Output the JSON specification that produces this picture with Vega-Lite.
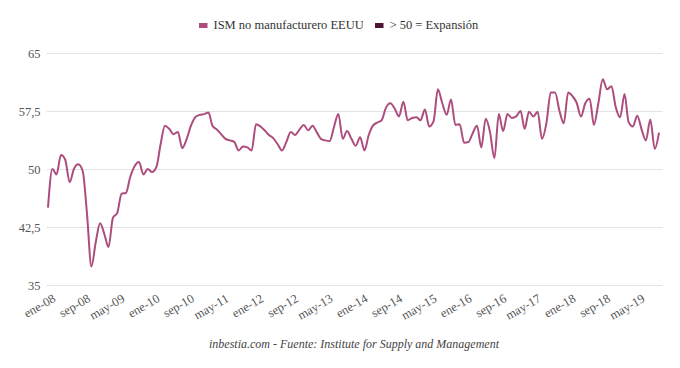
{
  "$schema": "https://vega.github.io/schema/vega-lite/v6.json",
  "width": 616,
  "height": 232,
  "autosize": {"type": "none"},
  "padding": {"left": 46, "top": 53, "right": 18, "bottom": 83},
  "background": "white",
  "title": {
    "text": "inbestia.com - Fuente: Institute for Supply and Management",
    "orient": "bottom",
    "anchor": "middle",
    "font": "'Liberation Serif', 'DejaVu Serif', serif",
    "fontSize": 12,
    "fontStyle": "italic",
    "fontWeight": "normal",
    "color": "#444444",
    "offset": 17
  },
  "config": {
    "view": {"stroke": null},
    "font": "'Liberation Serif', 'DejaVu Serif', serif",
    "axis": {"labelFont": "'Liberation Serif', 'DejaVu Serif', serif", "labelFontSize": 12.5, "labelColor": "#555555"},
    "legend": {"labelFont": "'Liberation Serif', 'DejaVu Serif', serif"}
  },
  "datasets": {
    "ism": [
      {"d": "2008-01-01", "v": 45.0}, {"d": "2008-02-01", "v": 50.0}, {"d": "2008-03-01", "v": 49.3}, {"d": "2008-04-01", "v": 51.8},
      {"d": "2008-05-01", "v": 51.2}, {"d": "2008-06-01", "v": 48.3}, {"d": "2008-07-01", "v": 50.0}, {"d": "2008-08-01", "v": 50.6},
      {"d": "2008-09-01", "v": 49.7}, {"d": "2008-10-01", "v": 44.2}, {"d": "2008-11-01", "v": 37.4}, {"d": "2008-12-01", "v": 40.5},
      {"d": "2009-01-01", "v": 43.0}, {"d": "2009-02-01", "v": 41.5}, {"d": "2009-03-01", "v": 39.9}, {"d": "2009-04-01", "v": 43.7},
      {"d": "2009-05-01", "v": 44.3}, {"d": "2009-06-01", "v": 46.8}, {"d": "2009-07-01", "v": 46.9}, {"d": "2009-08-01", "v": 49.0},
      {"d": "2009-09-01", "v": 50.4}, {"d": "2009-10-01", "v": 50.9}, {"d": "2009-11-01", "v": 49.3}, {"d": "2009-12-01", "v": 50.0},
      {"d": "2010-01-01", "v": 49.6}, {"d": "2010-02-01", "v": 50.3}, {"d": "2010-03-01", "v": 53.1}, {"d": "2010-04-01", "v": 55.6},
      {"d": "2010-05-01", "v": 55.2}, {"d": "2010-06-01", "v": 54.5}, {"d": "2010-07-01", "v": 54.8}, {"d": "2010-08-01", "v": 52.7},
      {"d": "2010-09-01", "v": 53.9}, {"d": "2010-10-01", "v": 55.6}, {"d": "2010-11-01", "v": 56.7}, {"d": "2010-12-01", "v": 57.0},
      {"d": "2011-01-01", "v": 57.1}, {"d": "2011-02-01", "v": 57.3}, {"d": "2011-03-01", "v": 55.6}, {"d": "2011-04-01", "v": 55.1},
      {"d": "2011-05-01", "v": 54.5}, {"d": "2011-06-01", "v": 53.9}, {"d": "2011-07-01", "v": 53.7}, {"d": "2011-08-01", "v": 53.5},
      {"d": "2011-09-01", "v": 52.4}, {"d": "2011-10-01", "v": 52.9}, {"d": "2011-11-01", "v": 52.8}, {"d": "2011-12-01", "v": 52.4},
      {"d": "2012-01-01", "v": 55.8}, {"d": "2012-02-01", "v": 55.5}, {"d": "2012-03-01", "v": 55.0}, {"d": "2012-04-01", "v": 54.4},
      {"d": "2012-05-01", "v": 54.0}, {"d": "2012-06-01", "v": 53.2}, {"d": "2012-07-01", "v": 52.4}, {"d": "2012-08-01", "v": 53.5},
      {"d": "2012-09-01", "v": 54.8}, {"d": "2012-10-01", "v": 54.4}, {"d": "2012-11-01", "v": 55.1}, {"d": "2012-12-01", "v": 55.7},
      {"d": "2013-01-01", "v": 55.0}, {"d": "2013-02-01", "v": 55.6}, {"d": "2013-03-01", "v": 54.8}, {"d": "2013-04-01", "v": 53.9},
      {"d": "2013-05-01", "v": 53.7}, {"d": "2013-06-01", "v": 53.6}, {"d": "2013-07-01", "v": 55.4}, {"d": "2013-08-01", "v": 57.1},
      {"d": "2013-09-01", "v": 53.9}, {"d": "2013-10-01", "v": 54.9}, {"d": "2013-11-01", "v": 53.9}, {"d": "2013-12-01", "v": 53.0},
      {"d": "2014-01-01", "v": 54.1}, {"d": "2014-02-01", "v": 52.4}, {"d": "2014-03-01", "v": 54.3}, {"d": "2014-04-01", "v": 55.6},
      {"d": "2014-05-01", "v": 56.0}, {"d": "2014-06-01", "v": 56.3}, {"d": "2014-07-01", "v": 57.9}, {"d": "2014-08-01", "v": 58.5},
      {"d": "2014-09-01", "v": 57.8}, {"d": "2014-10-01", "v": 56.8}, {"d": "2014-11-01", "v": 58.7}, {"d": "2014-12-01", "v": 56.3},
      {"d": "2015-01-01", "v": 56.6}, {"d": "2015-02-01", "v": 56.7}, {"d": "2015-03-01", "v": 56.3}, {"d": "2015-04-01", "v": 57.7},
      {"d": "2015-05-01", "v": 55.5}, {"d": "2015-06-01", "v": 56.2}, {"d": "2015-07-01", "v": 60.3}, {"d": "2015-08-01", "v": 58.5},
      {"d": "2015-09-01", "v": 57.0}, {"d": "2015-10-01", "v": 59.0}, {"d": "2015-11-01", "v": 55.7}, {"d": "2015-12-01", "v": 55.8},
      {"d": "2016-01-01", "v": 53.4}, {"d": "2016-02-01", "v": 53.5}, {"d": "2016-03-01", "v": 54.6}, {"d": "2016-04-01", "v": 55.6},
      {"d": "2016-05-01", "v": 52.8}, {"d": "2016-06-01", "v": 56.5}, {"d": "2016-07-01", "v": 54.8}, {"d": "2016-08-01", "v": 51.4},
      {"d": "2016-09-01", "v": 57.1}, {"d": "2016-10-01", "v": 54.9}, {"d": "2016-11-01", "v": 57.1}, {"d": "2016-12-01", "v": 56.6},
      {"d": "2017-01-01", "v": 56.8}, {"d": "2017-02-01", "v": 57.5}, {"d": "2017-03-01", "v": 55.2}, {"d": "2017-04-01", "v": 57.4},
      {"d": "2017-05-01", "v": 56.8}, {"d": "2017-06-01", "v": 57.4}, {"d": "2017-07-01", "v": 53.9}, {"d": "2017-08-01", "v": 55.9},
      {"d": "2017-09-01", "v": 59.9}, {"d": "2017-10-01", "v": 59.9}, {"d": "2017-11-01", "v": 57.5}, {"d": "2017-12-01", "v": 55.9},
      {"d": "2018-01-01", "v": 59.9}, {"d": "2018-02-01", "v": 59.4}, {"d": "2018-03-01", "v": 58.6}, {"d": "2018-04-01", "v": 56.8},
      {"d": "2018-05-01", "v": 58.5}, {"d": "2018-06-01", "v": 59.1}, {"d": "2018-07-01", "v": 55.7}, {"d": "2018-08-01", "v": 58.5},
      {"d": "2018-09-01", "v": 61.6}, {"d": "2018-10-01", "v": 60.3}, {"d": "2018-11-01", "v": 60.7}, {"d": "2018-12-01", "v": 58.0},
      {"d": "2019-01-01", "v": 56.7}, {"d": "2019-02-01", "v": 59.7}, {"d": "2019-03-01", "v": 56.1}, {"d": "2019-04-01", "v": 55.5},
      {"d": "2019-05-01", "v": 56.9}, {"d": "2019-06-01", "v": 55.1}, {"d": "2019-07-01", "v": 53.7}, {"d": "2019-08-01", "v": 56.4},
      {"d": "2019-09-01", "v": 52.6}, {"d": "2019-10-01", "v": 54.7}
    ],
    "ref": [{"y": 50}]
  },
  "encoding": {
    "x": {
      "field": "d",
      "type": "temporal",
      "scale": {
        "type": "utc",
        "domain": [
          {"year": 2007, "month": 12, "date": 18, "utc": true},
          {"year": 2019, "month": 10, "date": 22, "utc": true}
        ]
      },
      "axis": {
        "title": null,
        "grid": false,
        "domain": false,
        "ticks": false,
        "labelAngle": -30,
        "labelAlign": "right",
        "labelBaseline": "middle",
        "labelPadding": 12,
        "labelOffset": 6,
        "labelOverlap": false,
        "labelExpr": "['ene','feb','mar','abr','may','jun','jul','ago','sep','oct','nov','dic'][utcmonth(datum.value)] + '-' + utcFormat(datum.value, '%y')",
        "values": [
          {"year": 2008, "month": 1, "date": 1, "utc": true},
          {"year": 2008, "month": 9, "date": 1, "utc": true},
          {"year": 2009, "month": 5, "date": 1, "utc": true},
          {"year": 2010, "month": 1, "date": 1, "utc": true},
          {"year": 2010, "month": 9, "date": 1, "utc": true},
          {"year": 2011, "month": 5, "date": 1, "utc": true},
          {"year": 2012, "month": 1, "date": 1, "utc": true},
          {"year": 2012, "month": 9, "date": 1, "utc": true},
          {"year": 2013, "month": 5, "date": 1, "utc": true},
          {"year": 2014, "month": 1, "date": 1, "utc": true},
          {"year": 2014, "month": 9, "date": 1, "utc": true},
          {"year": 2015, "month": 5, "date": 1, "utc": true},
          {"year": 2016, "month": 1, "date": 1, "utc": true},
          {"year": 2016, "month": 9, "date": 1, "utc": true},
          {"year": 2017, "month": 5, "date": 1, "utc": true},
          {"year": 2018, "month": 1, "date": 1, "utc": true},
          {"year": 2018, "month": 9, "date": 1, "utc": true},
          {"year": 2019, "month": 5, "date": 1, "utc": true}
        ]
      }
    }
  },
  "layer": [
    {
      "data": {"name": "ism"},
      "mark": {"type": "line", "interpolate": "monotone", "strokeWidth": 2},
      "encoding": {
        "y": {
          "field": "v",
          "type": "quantitative",
          "scale": {"domain": [35, 65], "nice": false, "zero": false},
          "axis": {
            "title": null,
            "domain": false,
            "ticks": false,
            "labelPadding": 6,
            "gridColor": "#e3e3e3",
            "values": [35, 42.5, 50, 57.5, 65],
            "labelExpr": "replace(toString(datum.value), '.', ',')"
          }
        },
        "color": {
          "datum": "ISM no manufacturero EEUU",
          "scale": {
            "domain": ["ISM no manufacturero EEUU", "> 50 = Expansión"],
            "range": ["#ac4d7e", "#4b1434"]
          },
          "legend": {
            "title": null,
            "orient": "none",
            "direction": "horizontal",
            "legendX": 151,
            "legendY": -34,
            "symbolType": "M-1,-0.5H1V0.5H-1Z",
            "symbolSize": 49,
            "labelFontSize": 12.5,
            "labelColor": "#333333",
            "labelOffset": 4,
            "columnPadding": 8,
            "encode": {
              "symbols": {
                "update": {
                  "fill": {"scale": "color", "field": "value"},
                  "stroke": {"value": "transparent"},
                  "opacity": {"value": 1}
                }
              }
            }
          }
        }
      }
    },
    {
      "data": {"name": "ref"},
      "mark": {"type": "rule", "strokeWidth": 1.3, "opacity": 0.6},
      "encoding": {
        "y": {"field": "y", "type": "quantitative"},
        "color": {"datum": "> 50 = Expansión"}
      }
    }
  ]
}
